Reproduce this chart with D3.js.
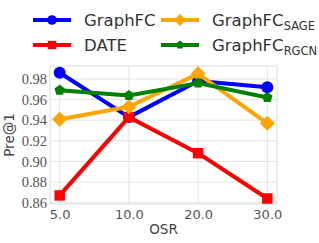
<!DOCTYPE html>
<html>
<head>
    <style>
        body { margin: 0; background: #fff; }
        .tick text { fill: #555; }
    </style>
    <script src="https://d3js.org/d3.v7.min.js"></script>
</head>
<body>
    <svg id="chart" width="319" height="243"></svg>
    <script>
        var categories = ["5.0", "10.0", "20.0", "30.0"];
        var graphfc = [0.986, 0.943, 0.978, 0.972];
        var date = [0.867, 0.943, 0.908, 0.864];
        var graphfcSage = [0.941, 0.953, 0.985, 0.937];
        var graphfcRgcn = [0.969, 0.964, 0.976, 0.962];
        var yTicks = [0.86, 0.88, 0.90, 0.92, 0.94, 0.96, 0.98];

        var series = [
            { name: "GraphFC", sub: "", values: graphfc, color: "blue", symbol: "circle" },
            { name: "DATE", sub: "", values: date, color: "red", symbol: "square" },
            { name: "GraphFC", sub: "SAGE", values: graphfcSage, color: "orange", symbol: "diamond" },
            { name: "GraphFC", sub: "RGCN", values: graphfcRgcn, color: "green", symbol: "pent" }
        ];

        var svg = d3.select("#chart"),
            pLeft = 50, pRight = 277, pTop = 66, pBottom = 204;

        var x = d3.scalePoint().domain(categories).range([pLeft, pRight]).padding(0.14);
        var y = d3.scaleLinear().domain([0.8587, 0.9926]).range([pBottom, pTop]);

        // grid
        svg.append("g").selectAll("line").data(yTicks).enter().append("line")
            .attr("x1", pLeft).attr("x2", pRight)
            .attr("y1", function (d) { return y(d); }).attr("y2", function (d) { return y(d); })
            .attr("stroke", "#e3e3e3").attr("stroke-width", 1);
        svg.append("g").selectAll("line").data(categories).enter().append("line")
            .attr("y1", pTop).attr("y2", pBottom)
            .attr("x1", function (d) { return x(d); }).attr("x2", function (d) { return x(d); })
            .attr("stroke", "#e3e3e3").attr("stroke-width", 1);
        svg.append("rect").attr("x", pLeft).attr("y", pTop)
            .attr("width", pRight - pLeft).attr("height", pBottom - pTop)
            .attr("fill", "none").attr("stroke", "#dddddd");

        // axes
        var xa = svg.append("g").attr("transform", "translate(0," + pBottom + ")")
            .call(d3.axisBottom(x).tickSize(0).tickPadding(6));
        xa.select(".domain").remove();
        xa.selectAll("text").attr("font-family", "DejaVu Sans").attr("font-size", 13);

        var ya = svg.append("g").attr("transform", "translate(" + pLeft + ",0)")
            .call(d3.axisLeft(y).tickValues(yTicks).tickFormat(d3.format(".2f")).tickSize(0).tickPadding(3));
        ya.select(".domain").remove();
        ya.attr("font-family", null);
        ya.selectAll("text").style("font-family", "'Liberation Serif', 'DejaVu Serif', serif").attr("font-size", 14.5);

        svg.append("text").attr("x", (pLeft + pRight) / 2).attr("y", 234)
            .attr("text-anchor", "middle").attr("font-family", "DejaVu Sans").attr("font-size", 13.5)
            .attr("fill", "#444").text("OSR");
        svg.append("text").attr("transform", "translate(14," + ((pTop + pBottom) / 2) + ") rotate(-90)")
            .attr("text-anchor", "middle").attr("font-family", "DejaVu Sans").attr("font-size", 13.5)
            .attr("fill", "#444").text("Pre@1");

        function poly(n, r, rot) {
            var pts = [];
            for (var i = 0; i < n; i++) {
                var a = rot + i * 2 * Math.PI / n;
                pts.push([r * Math.cos(a), r * Math.sin(a)]);
            }
            return "M" + pts.join("L") + "Z";
        }
        function markerPath(s, k) {
            if (s.symbol === "circle") return d3.symbol().type(d3.symbolCircle).size(Math.PI * 36 * k * k)();
            if (s.symbol === "square") return d3.symbol().type(d3.symbolSquare).size(110 * k * k)();
            if (s.symbol === "diamond") return poly(4, 7.5 * k, -Math.PI / 2);
            return poly(5, 5.5 * k, -Math.PI / 2);
        }

        var line = d3.line()
            .x(function (d, i) { return x(categories[i]); })
            .y(function (d) { return y(d); });

        series.forEach(function (s) {
            svg.append("path").datum(s.values).attr("d", line)
                .attr("fill", "none").attr("stroke", s.color).attr("stroke-width", 4)
                .attr("stroke-linejoin", "round");
            svg.append("g").selectAll("path").data(s.values).enter().append("path")
                .attr("d", markerPath(s, 1))
                .attr("transform", function (d, i) { return "translate(" + x(categories[i]) + "," + y(d) + ")"; })
                .attr("fill", s.color);
        });

        // legend
        var legPos = [[33, 20], [33, 45], [161, 20], [161, 45]];
        series.forEach(function (s, i) {
            var g = svg.append("g").attr("transform", "translate(" + legPos[i][0] + "," + legPos[i][1] + ")");
            g.append("line").attr("x1", 0).attr("x2", 38).attr("y1", 0).attr("y2", 0)
                .attr("stroke", s.color).attr("stroke-width", 4);
            g.append("path").attr("d", markerPath(s, 0.8)).attr("transform", "translate(19,0)").attr("fill", s.color);
            var t = g.append("text").attr("x", 51).attr("y", 6)
                .attr("font-family", "DejaVu Sans").attr("font-size", 16.5).attr("fill", "#333");
            t.append("tspan").text(s.name);
            if (s.sub) t.append("tspan").attr("font-size", 11.5).attr("dy", 4).text(s.sub);
        });
    </script>
</body>
</html>
